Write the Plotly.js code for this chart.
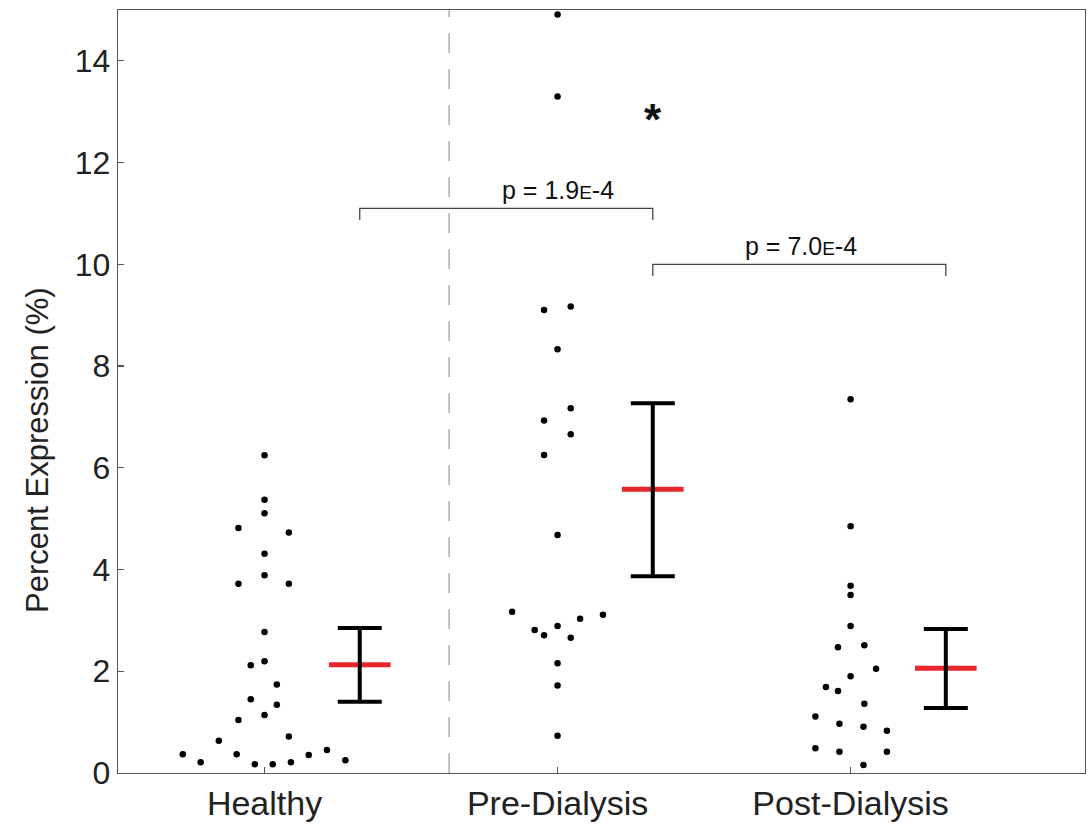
<!DOCTYPE html>
<html>
<head>
<meta charset="utf-8">
<script src="https://cdn.plot.ly/plotly-3.0.1.min.js"></script>
<style>html,body{margin:0;padding:0;background:#fff;}#chart{width:1089px;height:826px;}</style>
</head>
<body>
<div id="chart"></div>
<script>
// Categories
const categories = ["Healthy", "Pre-Dialysis", "Post-Dialysis"];
const categoryPos = [1, 2, 3];
const yTitle = "Percent Expression (%)";

// Individual points (x includes beeswarm jitter around the category position)
const healthyX = [1.0, 1.0, 1.0, 0.911, 1.083, 1.0, 1.0, 0.911, 1.083, 1.0, 1.0, 0.953, 1.042, 0.953, 1.042, 1.0, 0.911, 1.083, 0.844, 0.721, 0.905, 1.151, 1.213, 0.782, 1.276, 0.967, 1.028, 1.09];
const healthyY = [6.245, 5.37, 5.105, 4.816, 4.73, 4.31, 3.89, 3.72, 3.72, 2.77, 2.195, 2.12, 1.74, 1.45, 1.34, 1.14, 1.04, 0.72, 0.635, 0.367, 0.367, 0.354, 0.452, 0.21, 0.25, 0.17, 0.17, 0.21];

const preX = [2.0, 2.0, 1.954, 2.045, 2.0, 2.045, 1.954, 2.045, 1.954, 2.0, 1.845, 2.155, 2.077, 1.922, 2.0, 1.954, 2.045, 2.0, 2.0, 2.0];
const preY = [14.91, 13.30, 9.10, 9.17, 8.33, 7.17, 6.93, 6.66, 6.25, 4.68, 3.17, 3.11, 3.03, 2.81, 2.89, 2.71, 2.66, 2.16, 1.72, 0.73];

const postX = [3.0, 3.0, 3.0, 3.0, 3.0, 2.957, 3.047, 3.087, 3.0, 2.916, 2.957, 3.047, 2.880, 2.962, 3.044, 3.124, 2.880, 2.962, 3.124, 3.044];
const postY = [7.35, 4.85, 3.68, 3.50, 2.89, 2.47, 2.51, 2.05, 1.90, 1.69, 1.61, 1.36, 1.11, 0.97, 0.91, 0.83, 0.485, 0.42, 0.42, 0.157];

// Summary statistics (mean with upper/lower error)
const meanX = [1.325, 2.325, 3.325];
const meanVal = [2.13, 5.58, 2.06];
const upperVal = [2.85, 7.27, 2.83];
const lowerVal = [1.40, 3.87, 1.28];

// Significance brackets
const bracketFrom = [0, 1];   // index into meanX
const bracketTo = [1, 2];
const bracketY = [11.1, 10.0];
const bracketLabels = ["p = 1.9<span style='font-size:19px'>E</span>-4", "p = 7.0<span style='font-size:19px'>E</span>-4"];
const bracketLabelX = [2.0, 2.83];

const yTicks = [0, 2, 4, 6, 8, 10, 12, 14];
const dividerX = 1.63;

const baseFont = "Liberation Sans, Arial, Helvetica, sans-serif";

const ptMarker = {color: "#000", size: 6.5};
const traces = [
  {x: healthyX, y: healthyY, type: "scatter", mode: "markers", marker: ptMarker, hoverinfo: "y"},
  {x: preX, y: preY, type: "scatter", mode: "markers", marker: ptMarker, hoverinfo: "y"},
  {x: postX, y: postY, type: "scatter", mode: "markers", marker: ptMarker, hoverinfo: "y"},
  {x: meanX, y: meanVal, type: "scatter", mode: "markers",
   marker: {symbol: "line-ew", size: 44, color: "#e41a1c", line: {color: "#e8262b", width: 5}}},
  {x: meanX, y: meanVal, type: "scatter", mode: "markers",
   marker: {size: 1, color: "rgba(0,0,0,0)"},
   error_y: {type: "data", symmetric: false,
     array: meanVal.map((m, i) => upperVal[i] - m),
     arrayminus: meanVal.map((m, i) => m - lowerVal[i]),
     color: "#000", thickness: 4, width: 22}}
];

const shapes = [
  {type: "line", xref: "x", yref: "paper", x0: dividerX, x1: dividerX, y0: 0, y1: 1,
   line: {color: "#999", width: 1.2, dash: "20px,16px"}}
];
const annotations = [];
for (let i = 0; i < bracketY.length; i++) {
  const xa = meanX[bracketFrom[i]], xb = meanX[bracketTo[i]], yb = bracketY[i];
  shapes.push({type: "path", xref: "x", yref: "y",
    path: `M ${xa},${yb - 0.23} L ${xa},${yb} L ${xb},${yb} L ${xb},${yb - 0.23}`,
    line: {color: "#444", width: 1.3}});
  annotations.push({x: bracketLabelX[i], y: yb, xref: "x", yref: "y", yanchor: "bottom", yshift: 2,
    text: bracketLabels[i], showarrow: false, font: {size: 25, color: "#111", family: baseFont}});
}
annotations.push({x: meanX[1], y: 12.84, xref: "x", yref: "y", text: "<b>*</b>", showarrow: false,
  font: {size: 44, color: "#111", family: baseFont}});
// y-axis title (placed as in the original figure, slightly below the axis centre)
annotations.push({x: -0.083, y: 0.423, xref: "paper", yref: "paper", xanchor: "center", yanchor: "middle",
  text: yTitle, textangle: -90, showarrow: false, font: {size: 31, color: "#222", family: baseFont}});

const axisCommon = {showline: true, mirror: true, linecolor: "#555", linewidth: 1.3,
  ticks: "inside", ticklen: 6, tickcolor: "#555", tickwidth: 1.2, showgrid: false, zeroline: false};

const layout = {
  width: 1089, height: 826,
  margin: {l: 118, r: 4, t: 10, b: 53},
  paper_bgcolor: "#fff", plot_bgcolor: "#fff",
  showlegend: false,
  xaxis: Object.assign({}, axisCommon, {range: [0.5, 3.8], tickvals: categoryPos, ticktext: categories,
    tickfont: {size: 34, color: "#222", family: baseFont}}),
  yaxis: Object.assign({}, axisCommon, {range: [0, 15], tickvals: yTicks,
    tickfont: {size: 32, color: "#222", family: baseFont}}),
  shapes: shapes,
  annotations: annotations
};

Plotly.newPlot("chart", traces, layout, {displayModeBar: false, staticPlot: true});
</script>
</body>
</html>
